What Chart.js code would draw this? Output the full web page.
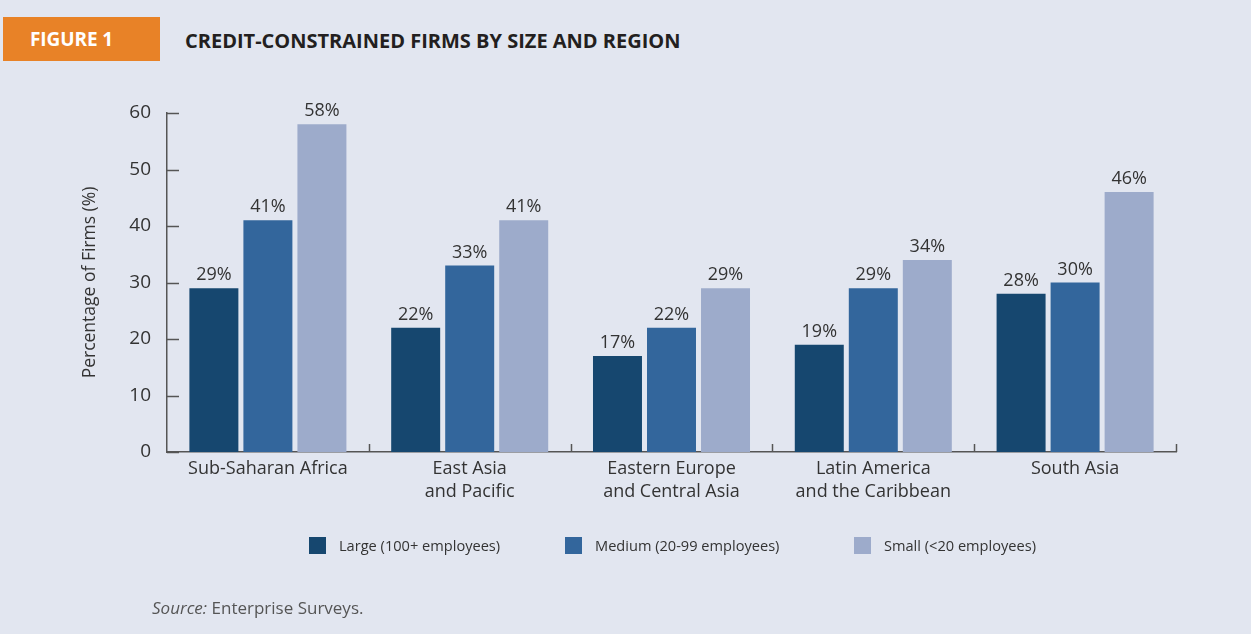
<!DOCTYPE html>
<html>
<head>
<meta charset="utf-8">
<script src="https://cdn.jsdelivr.net/npm/chart.js@4/dist/chart.umd.min.js"></script>
<style>
  html, body { margin:0; padding:0; }
  body { width:1251px; height:634px; background:#e2e6f0; position:relative; overflow:hidden; font-family:"Open Sans", sans-serif; }
  #fig { position:absolute; left:3px; top:17px; width:157px; height:44px; background:#e88227; }
  #fig span { position:absolute; left:27px; top:9px; color:#fff; font-weight:700; font-size:19px; letter-spacing:-0.1px; }
  #title { position:absolute; left:185px; top:27px; color:#231f20; font-weight:700; font-size:20px; letter-spacing:0px; }
  #wrap { position:absolute; left:0; top:0; width:1251px; height:634px; }
  #legend { position:absolute; top:536px; left:0; width:1251px; height:20px; font-size:14.6px; color:#333; }
  .li { position:absolute; top:0; }
  .sw { position:absolute; top:1px; width:17px; height:17px; }
  .lt { position:absolute; top:-1px; white-space:nowrap; }
  #source { position:absolute; left:152px; top:596px; font-size:17px; color:#555; }
</style>
</head>
<body>
<div id="fig"><span>FIGURE 1</span></div>
<div id="title">CREDIT-CONSTRAINED FIRMS BY SIZE AND REGION</div>
<div id="wrap"><canvas id="c" width="1251" height="634"></canvas></div>
<div id="legend"></div>
<div id="source"><i>Source:</i> Enterprise Surveys.</div>
<script>
const categories = [
  ["Sub-Saharan Africa"],
  ["East Asia", "and Pacific"],
  ["Eastern Europe", "and Central Asia"],
  ["Latin America", "and the Caribbean"],
  ["South Asia"]
];
const seriesNames = ["Large (100+ employees)", "Medium (20-99 employees)", "Small (<20 employees)"];
const large  = [29, 22, 17, 19, 28];
const medium = [41, 33, 22, 29, 30];
const small  = [58, 41, 29, 34, 46];
const yTicks = [0, 10, 20, 30, 40, 50, 60];
const colors = ["#16476f", "#33669c", "#9dabcb"];

// HTML legend
const legendPos = [309, 565, 854];
const lg = document.getElementById('legend');
seriesNames.forEach((n, i) => {
  const d = document.createElement('div');
  d.className = 'li';
  d.style.left = legendPos[i] + 'px';
  d.innerHTML = '<div class="sw" style="left:0;background:' + colors[i] + '"></div><div class="lt" style="left:30px">' + n.replace('<','&lt;') + '</div>';
  lg.appendChild(d);
});

const axisColor = '#555';
const marksPlugin = {
  id: 'marks',
  afterDraw(chart) {
    const ctx = chart.ctx;
    const x = chart.scales.x, y = chart.scales.y;
    ctx.save();
    ctx.strokeStyle = axisColor;
    ctx.lineWidth = 1.5;
    yTicks.forEach(v => {
      const py = Math.round(y.getPixelForValue(v)) + 0.5;
      ctx.beginPath(); ctx.moveTo(x.left, py); ctx.lineTo(x.left + 12, py); ctx.stroke();
    });
    const n = categories.length;
    const w = (x.right - x.left) / n;
    for (let i = 1; i <= n; i++) {
      const px = Math.round(x.getPixelForValue(i - 1) + w / 2) + 0.5;
      ctx.beginPath(); ctx.moveTo(px, y.bottom); ctx.lineTo(px, y.bottom - 8); ctx.stroke();
    }
    ctx.restore();
  },
  afterDatasetsDraw(chart) {
    const ctx = chart.ctx;
    ctx.save();
    ctx.font = '18px "Open Sans"';
    ctx.fillStyle = '#333';
    ctx.textAlign = 'center';
    ctx.textBaseline = 'alphabetic';
    chart.data.datasets.forEach((ds, di) => {
      chart.getDatasetMeta(di).data.forEach((bar, i) => {
        ctx.fillText(ds.data[i] + '%', bar.x, bar.y - 8);
      });
    });
    ctx.restore();
  }
};

new Chart(document.getElementById('c'), {
  type: 'bar',
  data: {
    labels: categories,
    datasets: [
      { label: seriesNames[0], data: large,  backgroundColor: colors[0] },
      { label: seriesNames[1], data: medium, backgroundColor: colors[1] },
      { label: seriesNames[2], data: small,  backgroundColor: colors[2] }
    ]
  },
  options: {
    responsive: false,
    animation: false,
    events: [],
    layout: { padding: { top: 113, right: 75, bottom: 122, left: 0 } },
    datasets: { bar: { categoryPercentage: 0.803, barPercentage: 0.907 } },
    plugins: { legend: { display: false }, tooltip: { enabled: false } },
    scales: {
      x: {
        grid: { display: false, drawTicks: false },
        border: { display: true, color: axisColor, width: 1.5 },
        ticks: { color: '#333', font: { family: 'Open Sans', size: 18, lineHeight: 1.28 }, padding: 5, maxRotation: 0, autoSkip: false },
        afterFit(s) { s.height = 60; }
      },
      y: {
        min: 0, max: 60,
        afterBuildTicks(s) { s.ticks = yTicks.map(v => ({ value: v })); },
        grid: { display: false, drawTicks: false },
        border: { display: true, color: axisColor, width: 1.5 },
        ticks: { color: '#333', font: { family: 'Open Sans', size: 19 }, padding: 16 },
        title: { display: true, text: 'Percentage of Firms (%)', color: '#333', font: { family: 'Open Sans', size: 17.5 }, padding: { top: 80 } },
        afterFit(s) { s.width = 167; }
      }
    }
  },
  plugins: [marksPlugin]
});
</script>
</body>
</html>
